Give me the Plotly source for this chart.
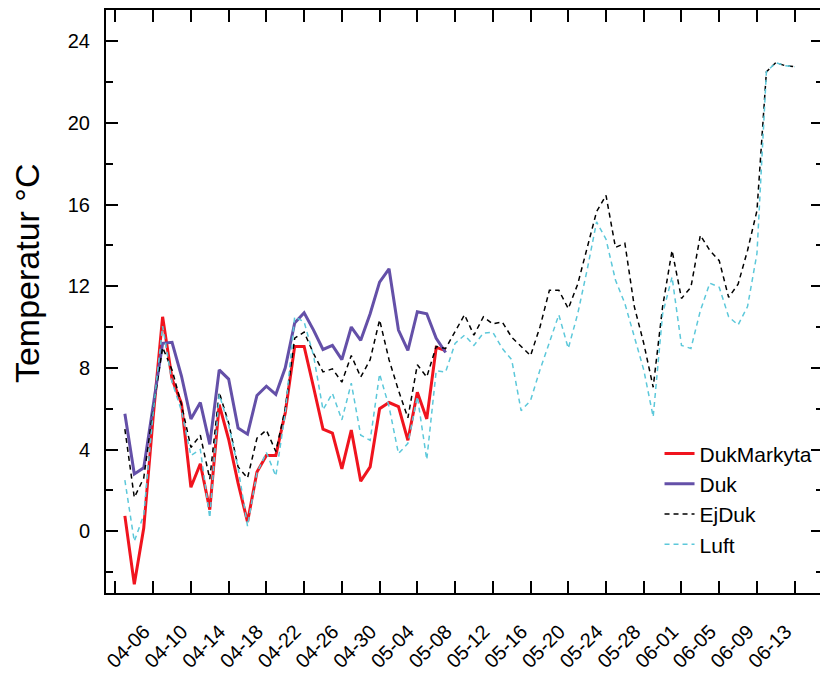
import pandas as pd
import plotly.graph_objects as go

dates = pd.date_range("2013-04-03", periods=72, freq="D")

duk_markyta = [0.75, -2.6, 0.15, 5.6, 10.5, 7.45, 6.25, 2.15, 3.3, 1.05,
               6.2, 4.5, 2.35, 0.45, 2.9, 3.7, 3.7, 5.8, 9.05, 9.05,
               7.05, 5.0, 4.8, 3.05, 4.95, 2.45, 3.15, 6.0, 6.3, 6.1,
               4.45, 6.8, 5.5, 9.0, 8.85]

duk = [5.75, 2.8, 3.1, 6.1, 9.2, 9.25, 7.6, 5.5, 6.3, 4.25,
       7.9, 7.45, 5.05, 4.75, 6.65, 7.1, 6.7, 8.0, 10.2, 10.7,
       9.85, 8.9, 9.1, 8.4, 10.0, 9.35, 10.65, 12.2, 12.85, 9.85,
       8.85, 10.75, 10.65, 9.45, 8.75]

ej_duk = [5.0, 1.65, 2.6, 6.0, 9.0, 7.9, 6.2, 4.1, 4.7, 2.55,
          6.8, 5.3, 3.15, 2.6, 4.55, 4.95, 3.9, 6.0, 9.45, 9.75,
          8.7, 7.8, 7.95, 7.3, 8.6, 7.55, 8.4, 10.35, 8.4, 6.9,
          5.55, 8.15, 7.55, 9.05, 8.95, 9.75, 10.6, 9.6, 10.5, 10.15,
          10.25, 9.5, 9.05, 8.6, 10.0, 11.8, 11.8, 10.9, 12.1, 13.9,
          15.65, 16.45, 13.9, 14.1, 11.0, 9.2, 7.05, 11.0, 13.75, 11.4,
          11.95, 14.5, 13.75, 13.25, 11.45, 12.1, 13.75, 15.7, 22.5, 22.95,
          22.8, 22.75]

luft = [2.5, -0.5, 0.8, 5.8, 10.05, 7.3, 5.9, 3.7, 4.0, 0.65,
        6.7, 5.2, 3.1, 0.25, 2.85, 3.85, 2.7, 5.8, 10.5, 10.25,
        8.6, 5.95, 6.75, 5.45, 7.25, 4.7, 4.45, 7.7, 6.1, 3.8,
        4.3, 6.6, 3.5, 7.85, 7.8, 9.2, 9.6, 9.1, 9.7, 9.75,
        8.95, 8.4, 5.9, 6.4, 7.9, 9.2, 10.6, 8.95, 10.65, 12.8,
        15.15, 14.3, 12.3, 11.15, 9.5, 7.9, 5.6, 10.65, 12.45, 9.1,
        8.95, 10.8, 12.15, 11.95, 10.5, 10.1, 11.0, 13.6, 22.5, 22.95,
        22.8, 22.75]

tick_dates = pd.date_range("2013-04-02", "2013-06-13", freq="4D")
tick_labels = ["", "04-06", "04-10", "04-14", "04-18", "04-22", "04-26", "04-30",
               "05-04", "05-08", "05-12", "05-16", "05-20", "05-24", "05-28",
               "06-01", "06-05", "06-09", "06-13"]

FONT = "Arial, Liberation Sans, sans-serif"

fig = go.Figure()
fig.add_trace(go.Scatter(x=dates[:len(duk_markyta)], y=duk_markyta, mode="lines",
                         name="DukMarkyta", line=dict(color="#F0141E", width=3)))
fig.add_trace(go.Scatter(x=dates[:len(duk)], y=duk, mode="lines",
                         name="Duk", line=dict(color="#6450A8", width=3)))
fig.add_trace(go.Scatter(x=dates, y=ej_duk, mode="lines", name="EjDuk",
                         line=dict(color="#000000", width=1.5, dash="5px,4px")))
fig.add_trace(go.Scatter(x=dates, y=luft, mode="lines", name="Luft",
                         line=dict(color="#5CC8DA", width=1.5, dash="5px,4px")))

fig.update_layout(
    width=826, height=675,
    margin=dict(l=106, r=1, t=10, b=82),
    paper_bgcolor="white", plot_bgcolor="white",
    font=dict(family=FONT, size=20, color="black"),
    showlegend=True,
    legend=dict(x=0.772, y=0.274, xanchor="left", yanchor="top",
                bgcolor="rgba(0,0,0,0)", borderwidth=0,
                font=dict(family=FONT, size=21, color="black"),
                tracegroupgap=0),
    annotations=[dict(text="Temperatur °C", textangle=-90, showarrow=False,
                      xref="paper", yref="paper", x=-0.11, y=0.549,
                      xanchor="center", yanchor="middle",
                      font=dict(family=FONT, size=34, color="black"))],
)
fig.update_xaxes(
    type="date", range=["2013-04-01", "2013-06-16"],
    tickmode="array", tickvals=tick_dates, ticktext=tick_labels,
    tickangle=-45, ticks="inside", ticklen=12, tickwidth=2, tickcolor="black",
    showline=True, linewidth=2, linecolor="black", mirror="ticks",
    showgrid=False, zeroline=False, ticklabelstandoff=17, ticklabelshift=-9,
    tickfont=dict(family=FONT, size=20, color="black"),
)
fig.update_yaxes(
    range=[-3.03, 25.53], tickmode="linear", tick0=0, dtick=4,
    ticks="inside", ticklen=12, tickwidth=2, tickcolor="black",
    minor=dict(dtick=2, ticks="inside", ticklen=7, tickwidth=2, tickcolor="black"),
    showline=True, linewidth=2, linecolor="black", mirror="ticks",
    showgrid=False, zeroline=False, ticklabelstandoff=10,
    tickfont=dict(family=FONT, size=20, color="black"),
)

fig.write_html("out.html", config={"displayModeBar": False},
               post_script="document.body.style.margin='0';document.body.style.overflow='hidden';")
